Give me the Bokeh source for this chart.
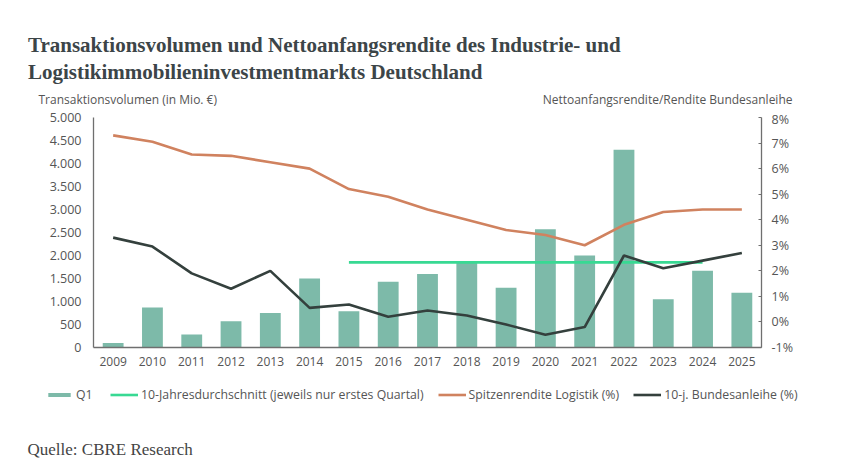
from bokeh.plotting import figure
from bokeh.layouts import column
from bokeh.models import (FactorRange, Range1d, LinearAxis, FixedTicker,
                          Legend, LegendItem)
from bokeh.core.properties import value
from bokeh.embed import file_html
from bokeh.resources import INLINE

# --- data -------------------------------------------------------------------
years = [str(y) for y in range(2009, 2026)]
volume_q1 = [100, 870, 280, 570, 750, 1500, 790, 1430, 1600, 1880, 1300,
             2570, 2000, 4300, 1050, 1670, 1190]           # Mio. EUR
avg_years = [str(y) for y in range(2015, 2025)]
avg_10y = [1850] * len(avg_years)                           # Mio. EUR
prime_yield = [7.3, 7.05, 6.55, 6.5, 6.25, 6.0, 5.2, 4.9, 4.4, 4.0, 3.6,
               3.4, 3.0, 3.8, 4.3, 4.4, 4.4]                # %
bund_10y = [3.3, 2.95, 1.9, 1.3, 2.0, 0.55, 0.68, 0.2, 0.45, 0.25, -0.1,
            -0.5, -0.2, 2.6, 2.1, 2.4, 2.7]                 # %
left_ticks = list(range(0, 5001, 500))
right_ticks = list(range(-1, 9))

title_lines = ["Transaktionsvolumen und Nettoanfangsrendite des Industrie- und",
               "Logistikimmobilieninvestmentmarkts Deutschland"]
left_title = "Transaktionsvolumen (in Mio. €)"
right_title = "Nettoanfangsrendite/Rendite Bundesanleihe"
source_note = "Quelle: CBRE Research"
legend_labels = ["Q1", "10-Jahresdurchschnitt (jeweils nur erstes Quartal)",
                 "Spitzenrendite Logistik (%)", "10-j. Bundesanleihe (%)"]

# --- layout constants -------------------------------------------------------
W = 850
HEAD_H = 110          # title block
MAIN_TOP = 7          # space above the plot frame inside the chart figure
FRAME_H = 230
MAIN_BOTTOM = 30
FOOT_H = 466 - HEAD_H - (MAIN_TOP + FRAME_H + MAIN_BOTTOM)
FL, FR = 93, 761      # frame left / right edges

BAR = "#7dbaa9"
GREEN = "#38d993"
ORANGE = "#d0825f"
DARK = "#34403d"
TXT = "#555555"
AX = "#6f6f6f"
SANS = "Open Sans"
SERIF = "Liberation Serif"


def blank(height):
    """A figure whose data coordinates equal its pixels (y from the top)."""
    f = figure(width=W, height=height, x_range=Range1d(0, W),
               y_range=Range1d(height, 0), x_axis_type=None,
               y_axis_type=None, output_backend="svg",
               toolbar_location=None, tools="", frame_align=False,
               min_border_left=0, min_border_right=0,
               min_border_top=0, min_border_bottom=0)
    f.outline_line_color = None
    f.xgrid.visible = False
    f.ygrid.visible = False
    return f


# --- header: title and axis captions ---------------------------------------
head = blank(HEAD_H)
head.text(x=[27.5, 27.5], y=[44.5, 71.5], text=title_lines,
          text_font=value(SERIF), text_font_style="bold",
          text_font_size="21px", text_color="#3c4548",
          text_baseline="alphabetic")
head.text(x=[38], y=[99], text=[left_title], text_font=value(SANS),
          text_font_size="12px", text_color=TXT, text_baseline="alphabetic")
head.text(x=[792], y=[99], text=[right_title], text_font=value(SANS),
          text_font_size="12px", text_color=TXT, text_align="right",
          text_baseline="alphabetic")

# --- main chart --------------------------------------------------------------
p = figure(width=W, height=MAIN_TOP + FRAME_H + MAIN_BOTTOM,
           x_range=FactorRange(factors=years), y_range=Range1d(0, 5000),
           output_backend="svg", toolbar_location=None, tools="",
           frame_align=False,
           min_border_left=FL, min_border_right=W - FR,
           min_border_top=MAIN_TOP, min_border_bottom=MAIN_BOTTOM)
p.extra_y_ranges = {"pct": Range1d(-1, 8)}
p.outline_line_color = None
p.xgrid.visible = False
p.ygrid.visible = False

p.vbar(x=years, top=volume_q1, width=0.53, color=BAR, line_color=None)
p.line(x=avg_years, y=avg_10y, color=GREEN, line_width=2.6)
p.line(x=years, y=prime_yield, color=ORANGE, line_width=2.6,
       y_range_name="pct")
p.line(x=years, y=bund_10y, color=DARK, line_width=2.6, y_range_name="pct")

ya = p.yaxis[0]
ya.ticker = FixedTicker(ticks=left_ticks)
ya.major_label_overrides = {v: f"{v:,}".replace(",", ".") for v in left_ticks}
ya.major_tick_in = 0
ya.major_tick_out = 0
ya.minor_tick_line_color = None
ya.axis_line_color = AX
ya.axis_line_width = 1.3
ya.major_label_standoff = 12
ya.major_label_text_font = SANS
ya.major_label_text_font_size = "12.5px"
ya.major_label_text_color = TXT

ra = LinearAxis(y_range_name="pct", ticker=FixedTicker(ticks=right_ticks))
ra.major_label_overrides = {v: f"{v}%" for v in right_ticks}
ra.major_tick_in = 3
ra.major_tick_out = 0
ra.major_tick_line_color = AX
ra.minor_tick_line_color = None
ra.axis_line_color = AX
ra.axis_line_width = 1.3
ra.major_label_standoff = 10
ra.major_label_text_font = SANS
ra.major_label_text_font_size = "12.5px"
ra.major_label_text_color = TXT
p.add_layout(ra, "right")

xa = p.xaxis[0]
xa.major_tick_in = 0
xa.major_tick_out = 0
xa.axis_line_color = AX
xa.axis_line_width = 1.3
xa.major_label_standoff = 9
xa.major_label_text_font = SANS
xa.major_label_text_font_size = "12px"
xa.major_label_text_color = TXT

# --- footer: legend and source ----------------------------------------------
# zero-size stand-ins that only lend their styling to the legend swatches
foot = blank(FOOT_H)
swatches = [
    foot.vbar(x=[0], top=[0], bottom=[0], width=0, color=BAR,
              line_color=None),
    foot.line(x=[0], y=[0], color=GREEN, line_width=2.6),
    foot.line(x=[0], y=[0], color=ORANGE, line_width=2.6),
    foot.line(x=[0], y=[0], color=DARK, line_width=2.6),
]
legend = Legend(
    items=[LegendItem(label=t, renderers=[r])
           for t, r in zip(legend_labels, swatches)],
    orientation="horizontal", location=(45, FOOT_H - 26),
    glyph_width=28, glyph_height=5, label_standoff=3, spacing=14,
    padding=0, margin=0, label_height=14,
    label_text_font=SANS, label_text_font_size="12.3px",
    label_text_color=TXT, background_fill_alpha=0, border_line_color=None)
foot.add_layout(legend, "center")
foot.text(x=[27], y=[72], text=[source_note], text_font=value(SERIF),
          text_font_size="17px", text_color="#444444",
          text_baseline="alphabetic")

layout = column(head, p, foot, spacing=0)
open("out.html", "w").write(file_html(layout, INLINE))
